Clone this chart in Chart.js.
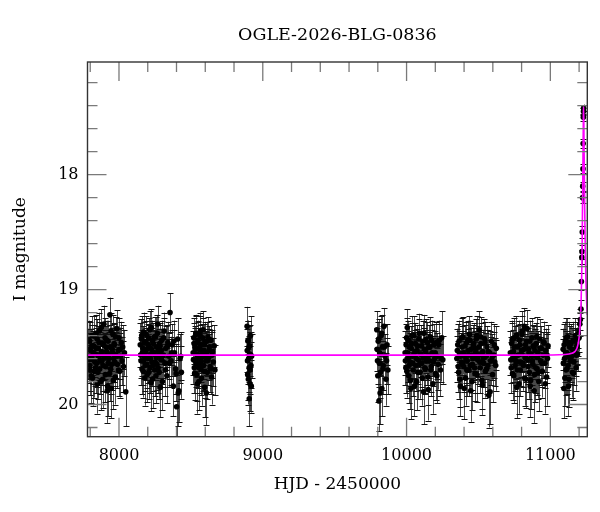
<!DOCTYPE html>
<html><head><meta charset="utf-8">
<script src="https://cdn.jsdelivr.net/npm/chart.js@4.4.1/dist/chart.umd.min.js"></script>
<style>html,body{margin:0;padding:0;background:#fff;}</style>
</head><body>
<canvas id="c" width="600" height="512" style="width:600px;height:512px;display:block"></canvas>
<script>
const TITLE = "OGLE-2026-BLG-0836";
const X_LABEL = "HJD - 2450000";
const Y_LABEL = "I magnitude";

const xMajorTicks = [8000, 9000, 10000, 11000];
const xMinorTicks = [7800, 8000, 8200, 8400, 8600, 8800, 9000, 9200, 9400, 9600, 9800, 10000, 10200, 10400, 10600, 10800, 11000, 11200];
const yMajorTicks = [18, 19, 20];
const yMinorTicks = [17.2, 17.4, 17.6, 17.8, 18, 18.2, 18.4, 18.6, 18.8, 19, 19.2, 19.4, 19.6, 19.8, 20, 20.2];

// season 1
const hjdS1 = [7785,7790,7795,7800,7806,7811,7816,7821,7827,7832,7837,7842,7848,7853,7858,7863,7869,7874,7879,7884,7890,7895,7900,7905,7911,7916,7921,7926,7932,7937,7942,7947,7953,7958,7963,7968,7974,7979,7984,7989,7995,8000,8005,8010,8016,8021,8026,8031,8038,8047];
const magS1 = [19.52,19.61,19.45,19.70,19.58,19.49,19.77,19.55,19.40,19.63,19.68,19.51,19.43,19.72,19.59,19.36,19.62,19.80,19.54,19.47,19.66,19.30,19.58,19.74,19.50,19.44,19.84,19.64,19.56,19.22,19.69,19.86,19.52,19.39,19.60,19.48,19.76,19.57,19.34,19.65,19.53,19.42,19.71,19.58,19.46,19.62,19.50,19.67,19.55,19.89];
const errS1 = [0.18,0.20,0.17,0.22,0.19,0.18,0.24,0.19,0.17,0.21,0.22,0.18,0.17,0.23,0.20,0.16,0.21,0.25,0.19,0.18,0.22,0.16,0.20,0.24,0.18,0.17,0.26,0.21,0.19,0.15,0.22,0.26,0.19,0.17,0.20,0.18,0.24,0.20,0.16,0.21,0.19,0.17,0.23,0.20,0.18,0.21,0.19,0.22,0.20,0.30];
const hjdS1b = [7787,7793,7798,7803,7808,7814,7819,7824,7829,7835,7840,7845,7850,7856,7861,7866,7871,7877,7882,7887,7892,7898,7903,7908,7913,7919,7924,7929,7935,7940,7945,7950,7956,7961,7966,7971,7977,7987,7997,8008];
const magS1b = [19.58,19.44,19.66,19.53,19.75,19.40,19.61,19.49,19.71,19.56,19.38,19.64,19.82,19.51,19.46,19.69,19.57,19.33,19.62,19.78,19.48,19.59,19.42,19.67,19.54,19.88,19.45,19.60,19.73,19.50,19.36,19.65,19.55,19.79,19.47,19.63,19.41,19.58,19.70,19.52];
const errS1b = [0.20,0.17,0.22,0.19,0.24,0.17,0.21,0.18,0.23,0.20,0.16,0.21,0.26,0.19,0.18,0.22,0.20,0.16,0.21,0.25,0.18,0.20,0.17,0.22,0.19,0.28,0.18,0.21,0.24,0.19,0.16,0.22,0.20,0.25,0.18,0.21,0.17,0.20,0.23,0.19];
// season 2
const hjdS2 = [8148,8153,8158,8163,8168,8172,8177,8182,8187,8191,8196,8201,8206,8210,8215,8220,8225,8229,8234,8239,8244,8249,8254,8259,8264,8269,8275,8280,8286,8291,8297,8302,8308,8314,8320,8326,8333,8340,8347,8355,8362,8370,8378,8386,8394,8401,8408,8416,8425,8434];
const magS2 = [19.48,19.62,19.40,19.55,19.71,19.37,19.58,19.66,19.45,19.52,19.74,19.60,19.42,19.50,19.68,19.56,19.33,19.63,19.78,19.47,19.55,19.70,19.41,19.59,19.65,19.30,19.53,19.72,19.49,19.61,19.44,19.80,19.57,19.36,19.64,19.51,19.75,19.46,19.58,19.20,19.62,19.48,19.84,19.55,19.69,20.02,19.43,19.88,19.60,19.72];
const errS2 = [0.19,0.21,0.17,0.20,0.23,0.17,0.20,0.22,0.18,0.19,0.24,0.21,0.17,0.19,0.22,0.20,0.16,0.21,0.25,0.18,0.20,0.23,0.17,0.20,0.22,0.16,0.19,0.23,0.18,0.21,0.17,0.25,0.20,0.16,0.21,0.19,0.24,0.18,0.20,0.17,0.21,0.18,0.26,0.20,0.22,0.28,0.18,0.27,0.21,0.23];
const hjdS2b = [8150,8156,8160,8166,8170,8175,8180,8185,8189,8194,8199,8204,8208,8213,8218,8223,8227,8232,8237,8242,8247,8252,8257,8262,8267,8272,8278,8283,8288,8294,8300,8311,8323,8337,8351,8366,8382,8398,8412,8429];
const magS2b = [19.57,19.43,19.69,19.51,19.62,19.46,19.77,19.54,19.39,19.65,19.59,19.48,19.72,19.35,19.60,19.81,19.52,19.44,19.66,19.56,19.41,19.63,19.75,19.50,19.38,19.68,19.57,19.47,19.85,19.53,19.61,19.42,19.70,19.49,19.64,19.55,19.45,19.73,19.90,19.58];
const errS2b = [0.20,0.17,0.22,0.19,0.21,0.18,0.24,0.19,0.16,0.21,0.20,0.18,0.23,0.16,0.20,0.25,0.19,0.17,0.22,0.20,0.17,0.21,0.24,0.19,0.16,0.22,0.20,0.18,0.26,0.19,0.21,0.17,0.23,0.18,0.21,0.20,0.18,0.24,0.29,0.21];
// season 3
const hjdS3 = [8516,8520,8524,8528,8532,8536,8540,8544,8548,8552,8556,8560,8564,8568,8572,8576,8580,8584,8588,8592,8596,8600,8604,8609,8614,8619,8624,8629,8634,8639,8644,8650,8656,8662,8667];
const magS3 = [19.55,19.42,19.68,19.50,19.62,19.38,19.74,19.57,19.46,19.65,19.80,19.52,19.40,19.60,19.70,19.48,19.58,19.35,19.66,19.53,19.85,19.45,19.62,19.56,19.72,19.41,19.59,19.50,19.67,19.44,19.76,19.54,19.63,19.49,19.70];
const errS3 = [0.19,0.17,0.22,0.18,0.20,0.16,0.23,0.19,0.18,0.21,0.25,0.19,0.17,0.20,0.22,0.18,0.20,0.16,0.21,0.19,0.26,0.17,0.21,0.19,0.23,0.17,0.20,0.18,0.22,0.17,0.24,0.19,0.21,0.18,0.22];
const hjdS3b = [8518,8522,8526,8530,8534,8538,8542,8546,8550,8554,8558,8562,8566,8570,8574,8578,8582,8586,8590,8594,8598,8602,8607,8612,8617,8627,8637,8647];
const magS3b = [19.61,19.47,19.73,19.52,19.39,19.64,19.56,19.82,19.44,19.59,19.68,19.50,19.36,19.63,19.77,19.54,19.42,19.66,19.58,19.48,19.71,19.55,19.90,19.45,19.62,19.53,19.69,19.57];
const errS3b = [0.21,0.18,0.23,0.19,0.16,0.21,0.20,0.26,0.17,0.20,0.22,0.19,0.16,0.21,0.24,0.19,0.17,0.22,0.20,0.18,0.23,0.19,0.28,0.17,0.21,0.19,0.22,0.20];
// season 4
const hjdS4 = [8891,8894,8897,8900,8903,8906,8909,8912,8915,8918,8920,8922];
const magS4 = [19.32,19.62,19.45,19.78,19.50,19.95,19.56,19.70,19.40,19.66,19.84,19.58];
const errS4 = [0.17,0.20,0.18,0.22,0.18,0.24,0.19,0.21,0.17,0.20,0.23,0.19];
const hjdS4b = [8892,8895,8899,8902,8905,8908,8911,8917];
const magS4b = [19.53,19.74,19.44,19.60,19.68,19.49,19.82,19.57];
const errS4b = [0.19,0.22,0.17,0.20,0.21,0.18,0.24,0.20];
// season 5
const hjdS5 = [9793,9798,9803,9808,9813,9818,9823,9828,9833,9838,9843,9850,9857,9864,9870];
const magS5 = [19.35,19.62,19.45,19.97,19.55,19.72,19.40,19.86,19.50,19.66,19.32,19.58,19.78,19.48,19.70];
const errS5 = [0.16,0.20,0.17,0.26,0.19,0.22,0.17,0.24,0.18,0.21,0.16,0.19,0.23,0.18,0.21];
const hjdS5b = [9795,9800,9806,9811,9816,9821,9826,9836,9846,9861];
const magS5b = [19.52,19.75,19.43,19.64,19.90,19.56,19.38,19.69,19.50,19.62];
const errS5b = [0.19,0.23,0.17,0.21,0.27,0.19,0.16,0.22,0.19,0.20];
// season 6
const hjdS6 = [9990,9995,10000,10005,10010,10015,10020,10025,10030,10035,10040,10046,10052,10058,10064,10070,10076,10082,10088,10094,10100,10106,10112,10118,10124,10130,10136,10142,10148,10154,10160,10166,10172,10178,10184,10190,10196,10202,10208,10214,10220,10228,10236,10244,10252];
const magS6 = [19.55,19.68,19.42,19.33,19.60,19.75,19.50,19.63,19.86,19.47,19.58,19.70,19.40,19.54,19.66,19.80,19.49,19.61,19.38,19.72,19.56,19.64,19.45,19.89,19.52,19.69,19.43,19.59,19.76,19.50,19.62,19.41,19.67,19.55,19.82,19.48,19.60,19.73,19.46,19.58,19.65,19.44,19.70,19.42,19.61];
const errS6 = [0.19,0.22,0.17,0.16,0.20,0.24,0.18,0.21,0.27,0.18,0.20,0.23,0.17,0.19,0.22,0.25,0.18,0.21,0.17,0.23,0.20,0.21,0.18,0.28,0.19,0.22,0.17,0.20,0.24,0.19,0.21,0.17,0.22,0.20,0.26,0.18,0.20,0.23,0.18,0.20,0.22,0.17,0.23,0.23,0.21];
const hjdS6b = [9992,9997,10002,10007,10012,10017,10022,10027,10032,10038,10043,10049,10055,10061,10067,10073,10079,10085,10091,10097,10103,10109,10115,10121,10127,10133,10139,10145,10151,10157,10163,10169,10175,10187,10199,10211,10224,10240];
const magS6b = [19.62,19.48,19.71,19.55,19.44,19.66,19.58,19.79,19.51,19.40,19.64,19.57,19.84,19.47,19.60,19.53,19.72,19.43,19.65,19.56,19.49,19.77,19.59,19.38,19.68,19.54,19.62,19.46,19.87,19.57,19.50,19.70,19.44,19.63,19.55,19.75,19.48,19.60];
const errS6b = [0.21,0.18,0.23,0.19,0.17,0.22,0.20,0.25,0.19,0.17,0.21,0.20,0.26,0.18,0.20,0.19,0.23,0.17,0.22,0.20,0.18,0.24,0.20,0.16,0.22,0.19,0.21,0.18,0.27,0.20,0.19,0.23,0.17,0.21,0.19,0.24,0.18,0.20];
// season 7
const hjdS7 = [10350,10356,10362,10368,10374,10380,10386,10392,10398,10404,10410,10416,10422,10428,10434,10440,10446,10452,10458,10464,10470,10476,10482,10488,10494,10500,10506,10512,10518,10524,10530,10536,10542,10548,10554,10560,10566,10572,10578,10584,10590,10598,10606,10614,10624];
const magS7 = [19.60,19.48,19.72,19.55,19.84,19.63,19.50,19.41,19.67,19.58,19.77,19.46,19.62,19.53,19.70,19.44,19.88,19.57,19.65,19.49,19.59,19.73,19.52,19.40,19.61,19.56,19.35,19.68,19.47,19.79,19.54,19.64,19.43,19.71,19.58,19.50,19.66,19.92,19.55,19.62,19.45,19.74,19.57,19.63,19.51];
const errS7 = [0.20,0.18,0.23,0.19,0.26,0.21,0.18,0.17,0.22,0.20,0.24,0.18,0.21,0.19,0.23,0.17,0.27,0.20,0.22,0.18,0.20,0.24,0.19,0.17,0.21,0.20,0.16,0.22,0.18,0.25,0.19,0.21,0.17,0.23,0.20,0.18,0.22,0.28,0.19,0.21,0.17,0.24,0.20,0.21,0.19];
const hjdS7b = [10353,10359,10365,10371,10377,10383,10389,10395,10401,10407,10413,10419,10425,10431,10437,10443,10449,10455,10461,10467,10473,10479,10485,10491,10497,10503,10509,10515,10521,10527,10533,10545,10557,10569,10581,10594,10610,10620];
const magS7b = [19.53,19.67,19.45,19.78,19.58,19.42,19.64,19.55,19.86,19.49,19.61,19.70,19.44,19.57,19.39,19.66,19.52,19.80,19.60,19.47,19.68,19.55,19.43,19.74,19.58,19.50,19.63,19.41,19.56,19.83,19.60,19.46,19.69,19.54,19.89,19.59,19.48,19.66];
const errS7b = [0.19,0.22,0.18,0.24,0.20,0.17,0.21,0.19,0.27,0.18,0.20,0.23,0.17,0.20,0.16,0.22,0.19,0.25,0.20,0.18,0.22,0.19,0.17,0.24,0.20,0.18,0.21,0.17,0.19,0.26,0.20,0.18,0.22,0.19,0.28,0.20,0.18,0.22];
// season 8
const hjdS8 = [10722,10728,10734,10740,10746,10752,10758,10764,10770,10776,10782,10788,10794,10800,10806,10812,10818,10824,10830,10836,10842,10848,10854,10860,10866,10872,10878,10884,10890,10896,10902,10908,10914,10920,10926,10932,10938,10944,10950,10956,10962,10968,10974,10980,10984];
const magS8 = [19.55,19.68,19.44,19.60,19.75,19.50,19.62,19.40,19.70,19.57,19.82,19.48,19.63,19.53,19.36,19.66,19.32,19.59,19.78,19.45,19.61,19.52,19.72,19.84,19.56,19.42,19.65,19.50,19.74,19.58,19.47,19.69,19.55,19.80,19.43,19.62,19.51,19.71,19.57,19.46,19.64,19.53,19.76,19.60,19.49];
const errS8 = [0.19,0.22,0.17,0.20,0.24,0.18,0.21,0.17,0.23,0.20,0.26,0.18,0.21,0.19,0.17,0.22,0.16,0.20,0.25,0.18,0.21,0.19,0.23,0.27,0.20,0.17,0.22,0.18,0.24,0.20,0.18,0.23,0.19,0.26,0.17,0.21,0.19,0.23,0.20,0.18,0.22,0.19,0.25,0.21,0.18];
const hjdS8b = [10725,10731,10737,10743,10749,10755,10761,10767,10773,10779,10785,10791,10797,10803,10809,10815,10821,10827,10833,10839,10845,10851,10857,10863,10869,10875,10881,10887,10893,10899,10905,10911,10917,10929,10941,10953,10965,10977];
const magS8b = [19.61,19.47,19.73,19.54,19.42,19.66,19.58,19.85,19.50,19.63,19.44,19.70,19.56,19.39,19.64,19.52,19.77,19.48,19.60,19.34,19.67,19.55,19.45,19.79,19.58,19.62,19.49,19.88,19.53,19.68,19.41,19.59,19.72,19.51,19.64,19.46,19.82,19.57];
const errS8b = [0.20,0.18,0.23,0.19,0.17,0.22,0.20,0.27,0.19,0.21,0.17,0.23,0.20,0.16,0.21,0.19,0.24,0.18,0.20,0.16,0.22,0.19,0.18,0.25,0.20,0.21,0.18,0.28,0.19,0.22,0.17,0.20,0.23,0.19,0.21,0.18,0.26,0.20];
// season 9 (baseline before the event)
const hjdS9 = [11089,11094,11099,11104,11109,11114,11119,11124,11129,11134,11139,11144,11149,11154,11159,11164,11169,11174,11179,11184,11189,11194];
const magS9 = [19.52,19.86,19.60,19.45,19.70,19.55,19.41,19.66,19.78,19.50,19.62,19.47,19.58,19.72,19.44,19.63,19.53,19.40,19.68,19.49,19.56,19.38];
const errS9 = [0.18,0.26,0.20,0.17,0.22,0.19,0.16,0.21,0.24,0.18,0.20,0.17,0.19,0.22,0.16,0.20,0.18,0.15,0.20,0.16,0.15,0.13];
const hjdS9b = [11091,11096,11101,11106,11111,11116,11121,11126,11131,11141,11151,11161,11171,11181,11186,11191];
const magS9b = [19.64,19.48,19.77,19.55,19.42,19.69,19.58,19.84,19.46,19.60,19.52,19.73,19.45,19.57,19.50,19.43];
const errS9b = [0.21,0.18,0.24,0.19,0.17,0.22,0.20,0.26,0.18,0.20,0.19,0.23,0.17,0.18,0.16,0.15];
// rising part of the event
const hjdS10 = [11200,11205,11209,11213,11216,11219,11220,11222,11224,11225,11227,11228,11229.5,11230.5,11231];
const magS10 = [19.42,19.30,19.26,19.17,18.93,18.72,18.67,18.50,18.20,18.10,17.95,17.73,17.50,17.45,17.42];
const errS10 = [0.12,0.10,0.09,0.08,0.07,0.06,0.06,0.05,0.05,0.04,0.04,0.04,0.03,0.03,0.03];

// model curve
const modelHjd = [7781,10900,11100,11150,11170,11185,11195,11203,11209,11214,11218,11220,11222,11224,11226,11228,11230,11231,11233,11236,11239,11243,11248,11253,11257];
const modelMag = [19.57,19.57,19.565,19.555,19.54,19.51,19.46,19.38,19.27,19.10,18.88,18.72,18.50,18.25,17.98,17.72,17.47,17.41,17.55,17.95,18.30,18.65,18.95,19.12,19.22];

const hjd = [].concat(hjdS1,hjdS1b,hjdS2,hjdS2b,hjdS3,hjdS3b,hjdS4,hjdS4b,hjdS5,hjdS5b,hjdS6,hjdS6b,hjdS7,hjdS7b,hjdS8,hjdS8b,hjdS9,hjdS9b,hjdS10);
const mag = [].concat(magS1,magS1b,magS2,magS2b,magS3,magS3b,magS4,magS4b,magS5,magS5b,magS6,magS6b,magS7,magS7b,magS8,magS8b,magS9,magS9b,magS10);
const magErr = [].concat(errS1,errS1b,errS2,errS2b,errS3,errS3b,errS4,errS4b,errS5,errS5b,errS6,errS6b,errS7,errS7b,errS8,errS8b,errS9,errS9b,errS10);

const FONT = "DejaVu Serif";

const errorBarPlugin = {
  id: 'errbars',
  beforeDatasetsDraw(chart) {
    const {ctx, chartArea: a, scales: {x, y}} = chart;
    ctx.save();
    ctx.beginPath(); ctx.rect(a.left, a.top, a.right - a.left, a.bottom - a.top); ctx.clip();
    ctx.lineWidth = 1;
    ctx.strokeStyle = '#4a4a4a';
    ctx.beginPath();
    for (let i = 0; i < hjd.length; i++) {
      const px = Math.round(x.getPixelForValue(hjd[i])) + 0.5;
      ctx.moveTo(px, y.getPixelForValue(mag[i] - magErr[i]));
      ctx.lineTo(px, y.getPixelForValue(mag[i] + magErr[i]));
    }
    ctx.stroke();
    ctx.strokeStyle = '#111';
    ctx.beginPath();
    for (let i = 0; i < hjd.length; i++) {
      const px = Math.round(x.getPixelForValue(hjd[i])) + 0.5;
      const y1 = Math.round(y.getPixelForValue(mag[i] - magErr[i])) + 0.5;
      const y2 = Math.round(y.getPixelForValue(mag[i] + magErr[i])) + 0.5;
      ctx.moveTo(px - 3, y1); ctx.lineTo(px + 3, y1);
      ctx.moveTo(px - 3, y2); ctx.lineTo(px + 3, y2);
    }
    ctx.stroke();
    ctx.restore();
  }
};

const framePlugin = {
  id: 'frame',
  afterDatasetsDraw(chart) {
    const {ctx, chartArea: a, scales: {x, y}} = chart;
    ctx.save();
    ctx.strokeStyle = '#7a7a7a';
    ctx.lineWidth = 1.3;
    ctx.beginPath();
    const majX = new Set(xMajorTicks), majY = new Set(yMajorTicks);
    xMinorTicks.forEach(v => {
      const p = x.getPixelForValue(v);
      if (p <= a.left + 1 || p >= a.right - 1) return;
      const L = majX.has(v) ? 19 : 10;
      ctx.moveTo(p, a.bottom); ctx.lineTo(p, a.bottom - L);
      ctx.moveTo(p, a.top); ctx.lineTo(p, a.top + L);
    });
    yMinorTicks.forEach(v => {
      const p = y.getPixelForValue(v);
      if (p <= a.top + 1 || p >= a.bottom - 1) return;
      const L = majY.has(v) ? 19 : 10;
      ctx.moveTo(a.left, p); ctx.lineTo(a.left + L, p);
      ctx.moveTo(a.right, p); ctx.lineTo(a.right - L, p);
    });
    ctx.stroke();
    ctx.strokeStyle = '#333';
    ctx.lineWidth = 1.4;
    ctx.strokeRect(a.left, a.top, a.right - a.left, a.bottom - a.top);
    ctx.restore();
  }
};

new Chart(document.getElementById('c'), {
  data: {
    datasets: [
      {
        type: 'line',
        data: modelHjd.map((v, i) => ({x: v, y: modelMag[i]})),
        borderColor: '#ff00ff',
        borderWidth: 1.6,
        pointRadius: 0,
        cubicInterpolationMode: 'monotone',
        fill: false,
        order: 0
      },
      {
        type: 'scatter',
        data: hjd.map((v, i) => ({x: v, y: mag[i]})),
        backgroundColor: '#000',
        borderWidth: 0,
        pointRadius: 2.8,
        order: 1
      }
    ]
  },
  options: {
    responsive: false,
    animation: false,
    devicePixelRatio: 1,
    layout: {padding: {left: 0, right: 12.7, top: 0, bottom: 0}},
    plugins: {
      legend: {display: false},
      tooltip: {enabled: false},
      title: {
        display: true, text: TITLE, color: '#000', fullSize: false,
        font: {family: FONT, size: 17.5, weight: 'normal'},
        padding: {top: 24.5, bottom: 16.5}
      }
    },
    scales: {
      x: {
        type: 'linear', position: 'bottom', min: 7781, max: 11257,
        grid: {display: false, drawTicks: false},
        border: {display: false},
        afterBuildTicks: s => { s.ticks = xMajorTicks.map(v => ({value: v})); },
        afterFit: s => { s.height = 75.3; },
        ticks: {font: {family: FONT, size: 16}, color: '#000', padding: 10, maxRotation: 0, autoSkip: false, callback: v => String(v)},
        title: {display: true, text: X_LABEL, color: '#000', font: {family: FONT, size: 17}, padding: {top: 0, bottom: 16.8}}
      },
      y: {
        type: 'linear', position: 'left', reverse: true, min: 17.02, max: 20.28,
        grid: {display: false, drawTicks: false},
        border: {display: false},
        afterBuildTicks: s => { s.ticks = yMajorTicks.map(v => ({value: v})); },
        afterFit: s => { s.width = 87.5; },
        ticks: {font: {family: FONT, size: 16}, color: '#000', padding: 9, autoSkip: false, callback: v => String(v)},
        title: {display: true, text: Y_LABEL, color: '#000', font: {family: FONT, size: 17}, padding: {top: 10.5, bottom: 0}}
      }
    }
  },
  plugins: [errorBarPlugin, framePlugin]
});
</script>
</body></html>
